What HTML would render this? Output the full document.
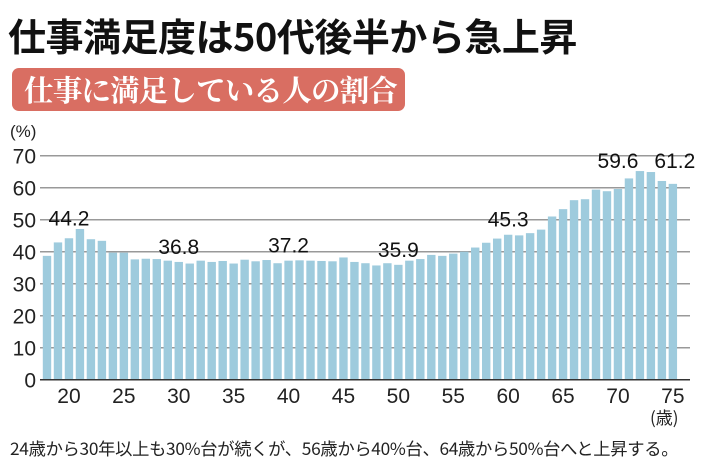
<!DOCTYPE html>
<html><head><meta charset="utf-8"><style>
body{margin:0;width:710px;height:467px;background:#fff;overflow:hidden;position:relative;font-family:"Liberation Sans","Noto Sans CJK JP",sans-serif}
#title{position:absolute;left:8px;top:10px;font-size:38px;font-weight:bold;color:#111;letter-spacing:-0.5px;white-space:nowrap;font-family:"Noto Sans CJK JP",sans-serif;line-height:50px}
#banner{position:absolute;left:12px;top:68px;width:393px;height:43px;background:#d96e62;border-radius:7px;color:#fff;font-family:"Noto Serif CJK SC",serif;font-weight:bold;font-size:29.5px;line-height:43px;text-indent:12px;white-space:nowrap;letter-spacing:-0.8px;overflow:hidden}
#foot{position:absolute;left:10px;top:435px;font-size:17.3px;color:#222;white-space:nowrap;font-family:"Noto Sans CJK JP",sans-serif;letter-spacing:-0.3px}
svg{position:absolute;left:0;top:0}
</style></head><body>
<div id="title">仕事満足度は50代後半から急上昇</div>
<div id="banner">仕事に満足している人の割合</div>
<svg id="chart" width="710" height="467"></svg>
<div id="foot">24歳から30年以上も30%台が続くが、56歳から40%台、64歳から50%台へと上昇する。</div>
<script>
const ages=[18,19,20,21,22,23,24,25,26,27,28,29,30,31,32,33,34,35,36,37,38,39,40,41,42,43,44,45,46,47,48,49,50,51,52,53,54,55,56,57,58,59,60,61,62,63,64,65,66,67,68,69,70,71,72,73,74,75];
const values=[38.7,42.9,44.2,47.1,43.9,43.4,39.7,39.7,37.6,37.8,37.7,37.2,36.8,36.3,37.2,36.8,37.1,36.3,37.5,37.0,37.4,36.4,37.2,37.3,37.2,37.1,37.0,38.2,36.8,36.4,35.7,36.4,35.9,37.2,37.7,39.0,38.7,39.4,40.0,41.3,42.8,44.1,45.3,45.1,45.8,46.9,51.0,53.3,56.1,56.4,59.4,58.9,59.6,62.9,65.2,64.9,62.1,61.2];
const yTicks=[0,10,20,30,40,50,60,70];
const xTicks=[20,25,30,35,40,45,50,55,60,65,70,75];
const labeledAges=[20,30,40,50,60,70,75];
const NS='http://www.w3.org/2000/svg';
const svg=document.getElementById('chart');
const x=a=>47+(a-18)*10.98;
const y=v=>379.7-v*3.2;
function mk(t,attrs,parent){const e=document.createElementNS(NS,t);for(const k in attrs)e.setAttribute(k,attrs[k]);(parent||svg).appendChild(e);return e;}
yTicks.forEach(v=>{
  if(v>0){const g=mk('line',{x1:40,x2:690,y1:y(v),y2:y(v),stroke:'#999','stroke-width':1.5});
  
  }
  const t=mk('text',{x:36,y:y(v)+8,'text-anchor':'end','font-size':21,fill:'#222'});
  t.textContent=v;
  
  
});
const yt=mk('text',{x:10,y:137,'font-size':17,fill:'#222'});yt.textContent='(%)';


const maxV=Math.max(...values);
ages.forEach((a,i)=>{
  const b=mk('rect',{x:x(a)-4.2,width:8.4,y:y(values[i]),height:y(0)-y(values[i]),fill:'#9ecbdd'});
  
  
  if(labeledAges.includes(a)){
    let ly=y(values[i])-(a===20?13:8);
    if(a>=70) ly=Math.min(ly,y(maxV)-3);
    const t=mk('text',{x:x(a)+(a===75?2:0),y:ly,'text-anchor':'middle','font-size':21,fill:'#111'});
    t.textContent=values[i].toFixed(1);
    
    
  }
});
const ax=mk('line',{x1:40,x2:690,y1:y(0),y2:y(0),stroke:'#333','stroke-width':1.5});


xTicks.forEach(a=>{
  const t=mk('text',{x:x(a),y:403,'text-anchor':'middle','font-size':21,fill:'#222'});
  t.textContent=a;
  
  
});
const xu=mk('text',{x:650,y:424,'font-size':17,fill:'#222','font-family':'"Noto Sans CJK JP",sans-serif'});xu.textContent='(歳)';


</script>
</body></html>
